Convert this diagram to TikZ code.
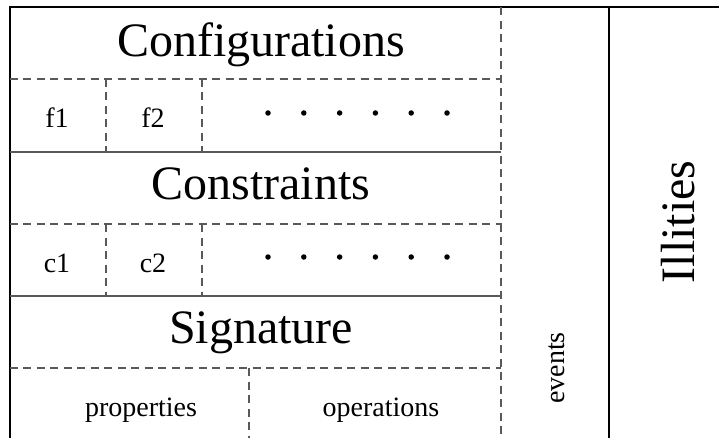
\documentclass[tikz,border=0pt]{standalone}
\usepackage{fontspec}
\setmainfont{Liberation Serif}
\begin{document}
\begin{tikzpicture}[x=1pt,y=-1pt,
  frame/.style={line width=2pt,black},
  rule/.style={line width=1.4pt,black!65},
  split/.style={line width=1.2pt,black!65,dash pattern=on 8pt off 5.5pt},
  bigtext/.style={font=\fontsize{48}{48}\selectfont,inner sep=0pt,anchor=base},
  smalltext/.style={font=\fontsize{28}{28}\selectfont,inner sep=0pt,anchor=base},
  dot/.style={circle,fill=black,inner sep=0pt,minimum size=5.5pt}]
\useasboundingbox (0,0) rectangle (719,438);

% outer frame and the right-hand column
\draw[frame] (9.5,438) -- (9.5,7.5) -- (719,7.5);
\draw[frame] (609,7.5) -- (609,438);

% column boundary for events
\draw[split] (501,7.5) -- (501,438);

% solid separators between the three layers
\draw[rule] (9.5,152) -- (501,152);
\draw[rule] (9.5,296) -- (501,296);

% dashed separators inside each layer
\draw[split] (9.5,79) -- (501,79);
\draw[split] (9.5,224) -- (501,224);
\draw[split] (9.5,368) -- (501,368);

\draw[split] (106,79) -- (106,152);
\draw[split] (202,79) -- (202,152);
\draw[split] (106,224) -- (106,296);
\draw[split] (202,224) -- (202,296);
\draw[split] (249,368) -- (249,438);

% layer titles
\node[bigtext] (conf) at (261,57) {Configurations};
\node[bigtext] (cons) at (261,200) {Constraints};
\node[bigtext] (sig)  at (261,343) {Signature};

% cells
\node[smalltext] (f1) at (57,128) {f1};
\node[smalltext] (f2) at (153,128) {f2};
\node[smalltext] (c1) at (57,272) {c1};
\node[smalltext] (c2) at (153,272) {c2};
\node[smalltext] (prop) at (141,416) {properties};
\node[smalltext] (oper) at (381,416) {operations};

% ellipsis dots
\foreach \i in {0,...,5} {
  \node[dot] (fd\i) at ({268+35.8*\i},113) {};
  \node[dot] (cd\i) at ({268+35.8*\i},257) {};
}

% rotated labels
\node[smalltext,rotate=90] (ev) at (564,368) {events};
\node[bigtext,rotate=90] (ill) at (694,222) {Illities};
\end{tikzpicture}
\end{document}
